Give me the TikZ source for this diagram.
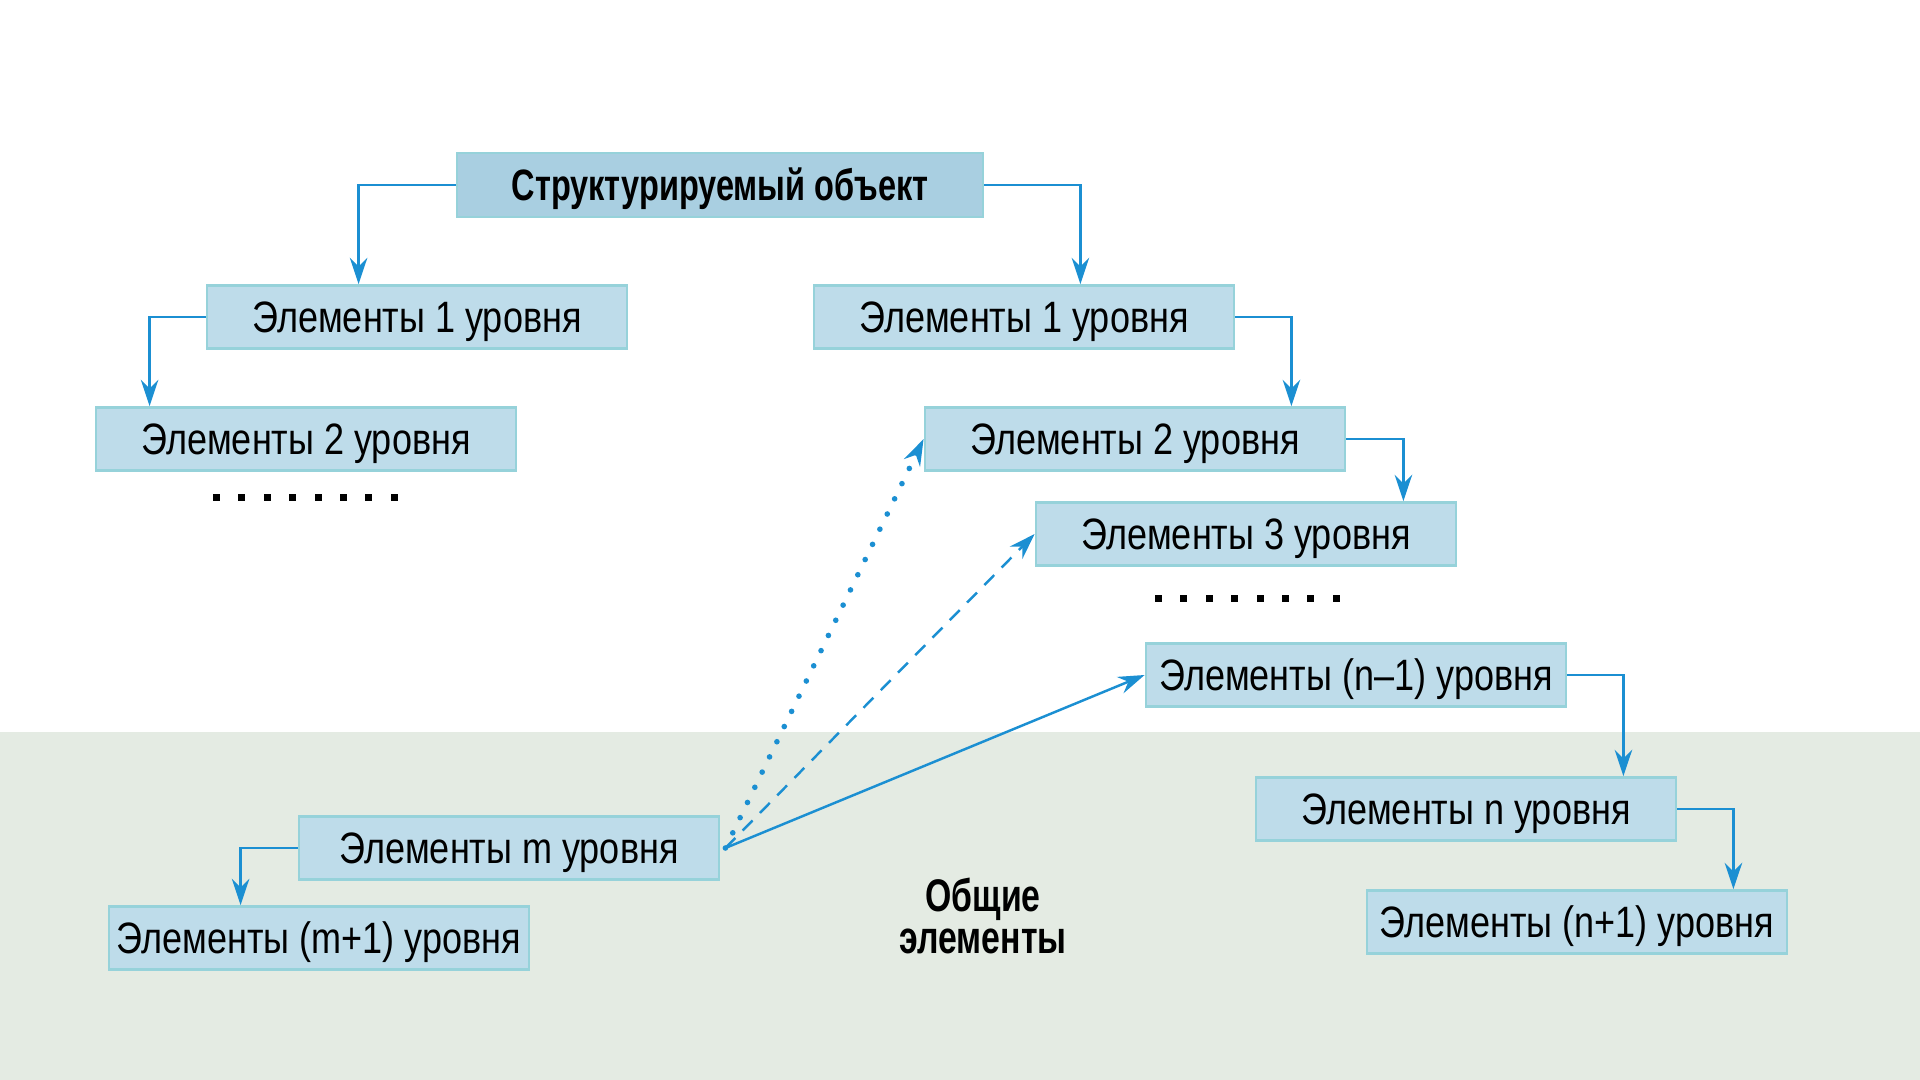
\documentclass[tikz,border=0pt]{standalone}
\usepackage{fontspec}
\setmainfont{Liberation Sans}[FakeStretch=0.82, BoldFeatures={FakeStretch=0.74}]
\usetikzlibrary{arrows.meta}

\definecolor{arrowblue}{HTML}{1B8FD2}
\definecolor{boxfill}{HTML}{BEDCEA}
\definecolor{rootfill}{HTML}{A9CFE1}
\definecolor{boxedge}{HTML}{96D2DA}
\definecolor{bandgray}{HTML}{E4EBE3}

\tikzstyle{block} = [rectangle, draw=boxedge, fill=boxfill, line width=0.8pt, minimum width=4.2cm, minimum height=0.63cm, inner sep=0pt, text height=9pt, text depth=0pt, font=\fontsize{12.5}{15}\selectfont]
\tikzstyle{rootblock} = [block, fill=rootfill, minimum width=5.26cm, minimum height=0.64cm, font=\fontsize{12.5}{15}\selectfont\bfseries]
\tikzstyle{label} = [align=center, font=\fontsize{13}{11.8}\selectfont\bfseries]
\tikzstyle{line} = [draw, arrowblue, line width=0.7pt, -{Stealth[length=7.5pt, width=5pt, inset=2.5pt]}]
\tikzstyle{dotline} = [line, line width=1.6pt, line cap=round, dash pattern=on 0pt off 4.8pt]
\tikzstyle{dashline} = [line, dash pattern=on 4pt off 3pt]

\begin{document}
\begin{tikzpicture}
\useasboundingbox (0, 0) rectangle (19.2, -10.8);
\fill [bandgray] (0, -7.32) rectangle (19.2, -10.8);

% root
\node [rootblock] at (7.20, -1.85) (root) {Структурируемый объект};

% left branch
\node [block] at (4.17, -3.17) (leftA) {Элементы 1 уровня};
\node [block] at (3.06, -4.39) (leftB) {Элементы 2 уровня};
\path [line] (root.west) -| ([xshift=1.53cm]leftA.north west);
\path [line] (leftA.west) -| ([xshift=0.55cm]leftB.north west);
\foreach \i in {0,...,7}
  \fill ({2.13+0.254*\i}, -4.935) rectangle ++(0.07, -0.07);

% right branch
\node [block] at (10.24, -3.17) (rightA) {Элементы 1 уровня};
\node [block] at (11.35, -4.39) (rightB) {Элементы 2 уровня};
\node [block] at (12.46, -5.34) (rightC) {Элементы 3 уровня};
\path [line] (root.east) -| ([xshift=-1.55cm]rightA.north east);
\path [line] (rightA.east) -| ([xshift=-0.55cm]rightB.north east);
\path [line] (rightB.east) -| ([xshift=-0.54cm]rightC.north east);
\foreach \i in {0,...,7}
  \fill ({11.55+0.254*\i}, -5.945) rectangle ++(0.07, -0.07);

\node [block] at (13.56, -6.75) (rightNm) {Элементы (n–1) уровня};
\node [block] at (14.66, -8.09) (rightN) {Элементы n уровня};
\node [block] at (15.77, -9.22) (rightNp) {Элементы (n+1) уровня};
\path [line] (rightNm.east) -| ([xshift=-0.54cm]rightN.north east);
\path [line] (rightN.east) -| ([xshift=-0.55cm]rightNp.north east);

% common elements
\node [block] at (5.09, -8.48) (levelM) {Элементы m уровня};
\node [block] at (3.19, -9.38) (levelMp) {Элементы (m+1) уровня};
\path [line] (levelM.west) -| ([xshift=1.33cm]levelMp.north west);
\node [label] at (9.83, -9.16) (common) {Общие\\элементы};

\path [line] ([xshift=0.05cm]levelM.east) -- (rightNm.west);
\path [dashline] ([xshift=0.05cm]levelM.east) -- (rightC.west);
\path [dotline] ([xshift=0.05cm]levelM.east) -- (rightB.west);

\end{tikzpicture}
\end{document}
